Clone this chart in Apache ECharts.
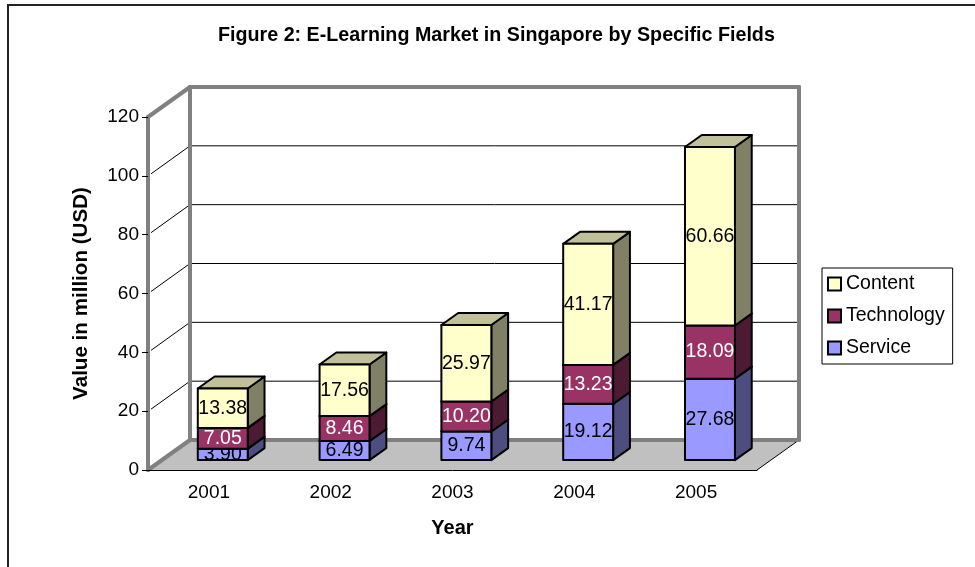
<!DOCTYPE html>
<html>
<head>
<meta charset="utf-8">
<script src="https://cdn.jsdelivr.net/npm/echarts@6/dist/echarts.min.js"></script>
<style>
  html, body { margin: 0; padding: 0; background: #fff; }
  #main { width: 975px; height: 567px; }
</style>
</head>
<body>
<div id="main"></div>
<script>
const years = ['2001', '2002', '2003', '2004', '2005'];
const service = [3.90, 6.49, 9.74, 19.12, 27.68];
const technology = [7.05, 8.46, 10.20, 13.23, 18.09];
const content = [13.38, 17.56, 25.97, 41.17, 60.66];
const yTicks = [0, 20, 40, 60, 80, 100, 120];

const FONT = 'Liberation Sans, Arial, sans-serif';
// oblique depth of the plot box (px), bars sit inside it
const DEPTH = [42, -30];
const BAR_FRONT = 0.33;
const BAR_DEPTH = 0.40;
const BAR_WIDTH = 0.41;

const chart = echarts.init(document.getElementById('main'));

// [category, base, value] for stacked 3d blocks
function stackData(values, below) {
  return values.map((v, i) => [i, below.reduce((s, arr) => s + arr[i], 0), v]);
}

// walls, floor and gridlines
function renderFrame(params, api) {
  const cs = params.coordSys;
  const v = api.value(0);
  const y = api.coord([0, v])[1];
  const y0 = api.coord([0, 0])[1];
  const x0 = cs.x, x1 = cs.x + cs.width;
  const dx = DEPTH[0], dy = DEPTH[1];
  const gray = { stroke: '#808080', lineWidth: 4, lineCap: 'round' };
  const thin = { stroke: '#000', lineWidth: 1 };
  const children = [];
  if (v === 0) {
    children.push({ type: 'polygon', shape: { points: [[x0, y], [x1, y], [x1 + dx, y + dy], [x0 + dx, y + dy]] },
      style: { fill: '#c0c0c0' } });
    children.push({ type: 'line', shape: { x1: x1, y1: y, x2: x1 + dx, y2: y + dy }, style: thin });
    children.push({ type: 'line', shape: { x1: x0, y1: y, x2: x0 + dx, y2: y + dy }, style: gray });
    children.push({ type: 'line', shape: { x1: x0 + dx, y1: y + dy, x2: x1 + dx, y2: y + dy }, style: gray });
  } else if (v === yTicks[yTicks.length - 1]) {
    children.push({ type: 'line', shape: { x1: x0 + dx, y1: y0 + dy, x2: x0 + dx, y2: y + dy }, style: gray });
    children.push({ type: 'line', shape: { x1: x1 + dx, y1: y0 + dy, x2: x1 + dx, y2: y + dy }, style: gray });
    children.push({ type: 'line', shape: { x1: x0, y1: y, x2: x0 + dx, y2: y + dy }, style: gray });
    children.push({ type: 'line', shape: { x1: x0 + dx, y1: y + dy, x2: x1 + dx, y2: y + dy }, style: gray });
  } else {
    children.push({ type: 'line', shape: { x1: x0 + 3, y1: y - 2, x2: x0 + dx, y2: y + dy }, style: thin });
    children.push({ type: 'line', shape: { x1: x0 + dx, y1: y + dy, x2: x1 + dx, y2: y + dy }, style: thin });
  }
  return { type: 'group', children: children };
}

function barRenderer(front, side, top, textColor) {
  return function (params, api) {
    const i = api.value(0), base = api.value(1), val = api.value(2);
    const band = api.size([1, 0])[0];
    const p0 = api.coord([i, base]);
    const p1 = api.coord([i, base + val]);
    const w = band * BAR_WIDTH;
    const xl = p0[0] + DEPTH[0] * BAR_FRONT - w / 2;
    const xr = xl + w;
    const yb = p0[1] + DEPTH[1] * BAR_FRONT;
    const yt = p1[1] + DEPTH[1] * BAR_FRONT;
    const bx = DEPTH[0] * BAR_DEPTH, by = DEPTH[1] * BAR_DEPTH;
    const edge = { stroke: '#000', lineWidth: 2, lineJoin: 'round' };
    return {
      type: 'group',
      children: [
        { type: 'polygon', shape: { points: [[xr, yt], [xr + bx, yt + by], [xr + bx, yb + by], [xr, yb]] },
          style: Object.assign({ fill: side }, edge) },
        { type: 'polygon', shape: { points: [[xl, yt], [xl + bx, yt + by], [xr + bx, yt + by], [xr, yt]] },
          style: Object.assign({ fill: top }, edge) },
        { type: 'rect', shape: { x: xl, y: yt, width: w, height: yb - yt },
          style: Object.assign({ fill: front }, edge) },
        { type: 'text', x: (xl + xr) / 2, y: (yt + yb) / 2,
          style: { text: val.toFixed(2), fill: textColor, font: '19.5px ' + FONT, align: 'center', verticalAlign: 'middle' } }
      ]
    };
  };
}

const option = {
  animation: false,
  title: {
    text: 'Figure 2: E-Learning Market in Singapore by Specific Fields',
    left: 218,
    top: 26,
    padding: 0,
    textStyle: { fontFamily: FONT, fontSize: 19.7, fontWeight: 'bold', color: '#000' }
  },
  legend: {
    orient: 'vertical',
    left: 822,
    top: 268,
    data: ['Content', 'Technology', 'Service'],
    icon: 'rect',
    itemWidth: 13,
    itemHeight: 13,
    itemGap: 12,
    padding: [6, 8, 6, 5],
    borderColor: '#000',
    borderWidth: 1,
    itemStyle: { borderColor: '#000', borderWidth: 2 },
    textStyle: { fontFamily: FONT, fontSize: 19.5, color: '#000', padding: [0, 0, 0, 0] }
  },
  grid: { left: 148, top: 117, width: 609, height: 353 },
  xAxis: {
    type: 'category',
    data: years,
    z: 5,
    name: 'Year',
    nameLocation: 'middle',
    nameGap: 48,
    nameTextStyle: { fontFamily: FONT, fontSize: 20, fontWeight: 'bold', color: '#000' },
    axisLine: { lineStyle: { color: '#000', width: 1 } },
    axisTick: { length: 7, lineStyle: { color: '#000' } },
    axisLabel: { margin: 13, fontFamily: FONT, fontSize: 19, color: '#000' },
    splitLine: { show: false }
  },
  yAxis: {
    type: 'value',
    min: 0,
    max: 120,
    interval: 20,
    z: 5,
    name: 'Value in million (USD)',
    nameLocation: 'middle',
    nameGap: 56,
    nameTextStyle: { fontFamily: FONT, fontSize: 20.6, fontWeight: 'bold', color: '#000' },
    axisLine: { show: true, lineStyle: { color: '#808080', width: 4 } },
    axisTick: { show: true, length: 6, lineStyle: { color: '#000' } },
    axisLabel: { margin: 9, fontFamily: FONT, fontSize: 19, color: '#000' },
    splitLine: { show: false }
  },
  series: [
    {
      type: 'custom',
      name: 'frame',
      silent: true,
      clip: false,
      z: 1,
      renderItem: renderFrame,
      data: yTicks.map(v => [v])
    },
    {
      type: 'custom',
      name: 'Service',
      clip: false,
      itemStyle: { color: '#9999ff' },
      renderItem: barRenderer('#9999ff', '#4d4d80', '#7373bf', '#000'),
      data: stackData(service, [])
    },
    {
      type: 'custom',
      name: 'Technology',
      clip: false,
      itemStyle: { color: '#993366' },
      renderItem: barRenderer('#993366', '#4d1a33', '#73264d', '#fff'),
      data: stackData(technology, [service])
    },
    {
      type: 'custom',
      name: 'Content',
      clip: false,
      itemStyle: { color: '#ffffcc' },
      renderItem: barRenderer('#ffffcc', '#808066', '#c0c09a', '#000'),
      data: stackData(content, [service, technology])
    }
  ],
  graphic: [
    { type: 'rect', shape: { x: 8, y: 5, width: 1000, height: 620 }, style: { fill: null, stroke: '#222', lineWidth: 2 }, z: -1 }
  ]
};

chart.setOption(option);
</script>
</body>
</html>
